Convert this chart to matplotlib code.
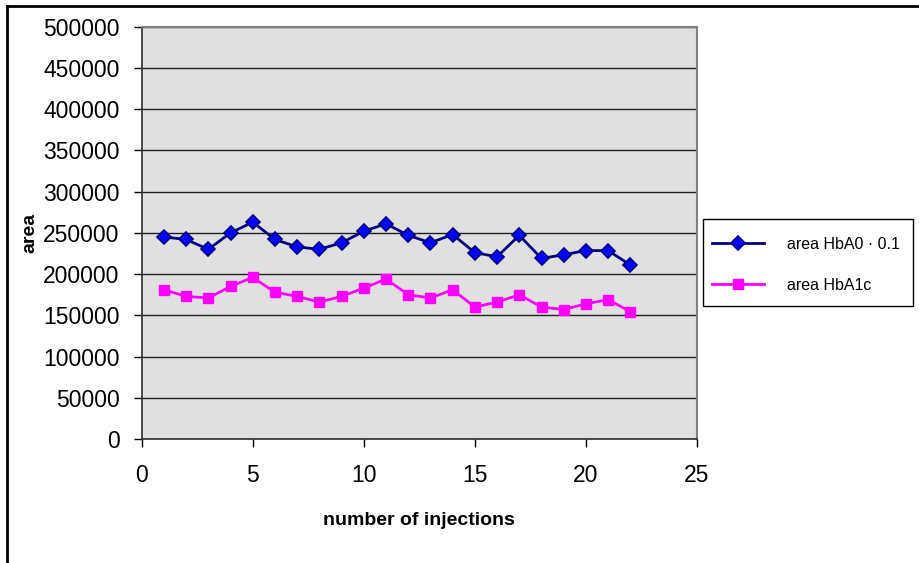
import numpy as np
import matplotlib.pyplot as plt
from matplotlib.lines import Line2D
from matplotlib.patches import Rectangle

plt.rcParams['font.family'] = ['Liberation Sans', 'DejaVu Sans']

injections = np.arange(1, 23)
area_hba0 = [245000, 242000, 230000, 250000, 263000, 242000, 233000, 230000, 238000, 252000, 261000,
             247000, 238000, 248000, 226000, 221000, 247000, 219000, 223500, 228500, 228500, 211000]
area_hba1c = [181000, 173000, 171000, 185000, 196000, 178000, 173000, 166000, 173000, 183000, 194000,
              175000, 171000, 181000, 160000, 166000, 175000, 160000, 157000, 164000, 169000, 154500]

fig = plt.figure(figsize=(9.2, 5.63), dpi=100)
ax = fig.add_axes([0.154, 0.2202, 0.6036, 0.7324])
ax.set_facecolor('#e0e0e0')

ax.plot(injections, area_hba0, color='#000080', lw=2, marker='D', ms=7,
        mfc='#0000ff', mec='#000080', mew=1.2, label='area HbA0 · 0.1', zorder=3)
ax.plot(injections, area_hba1c, color='#ff00ff', lw=2, marker='s', ms=7.5,
        mfc='#ff00ff', mec='#ff00ff', mew=1, label='area HbA1c', zorder=3)

ax.set_xlim(0, 25)
ax.set_ylim(0, 500000)
ax.set_xticks(np.arange(0, 26, 5))
ax.set_yticks(np.arange(0, 500001, 50000))
ax.yaxis.grid(True, color='#202020', lw=1)
ax.set_axisbelow(True)

for s in ['top', 'right']:
    ax.spines[s].set_color('#808080')
    ax.spines[s].set_linewidth(1.5)
for s in ['left', 'bottom']:
    ax.spines[s].set_color('#303030')
    ax.spines[s].set_linewidth(1.2)

ax.tick_params(axis='y', length=6, width=1, pad=10, labelsize=16.5)
ax.tick_params(axis='x', length=6, width=1, pad=12, labelsize=16.5)

ax.set_xlabel('number of injections', fontsize=14, fontweight='bold', labelpad=18)
ax.set_ylabel('area', fontsize=14, fontweight='bold', labelpad=3)

# legend entries without frame; frame drawn separately
leg = fig.legend(loc='upper left', bbox_to_anchor=(694 / 920, 1 - 219 / 563),
                 fontsize=11.5, handlelength=3.3, handletextpad=1.4,
                 labelspacing=1.65, borderpad=0.6, frameon=False)
fig.add_artist(Rectangle((703 / 920, 1 - 306 / 563), 210 / 920, 87 / 563,
                         transform=fig.transFigure, fill=False, ec='black', lw=1))

# outer chart border
fig.add_artist(Line2D([7 / 920, 1], [1 - 6 / 563, 1 - 6 / 563], color='black', lw=2))
fig.add_artist(Line2D([7 / 920, 7 / 920], [0, 1 - 6 / 563], color='black', lw=2))

fig.savefig('out.png', dpi=100)
